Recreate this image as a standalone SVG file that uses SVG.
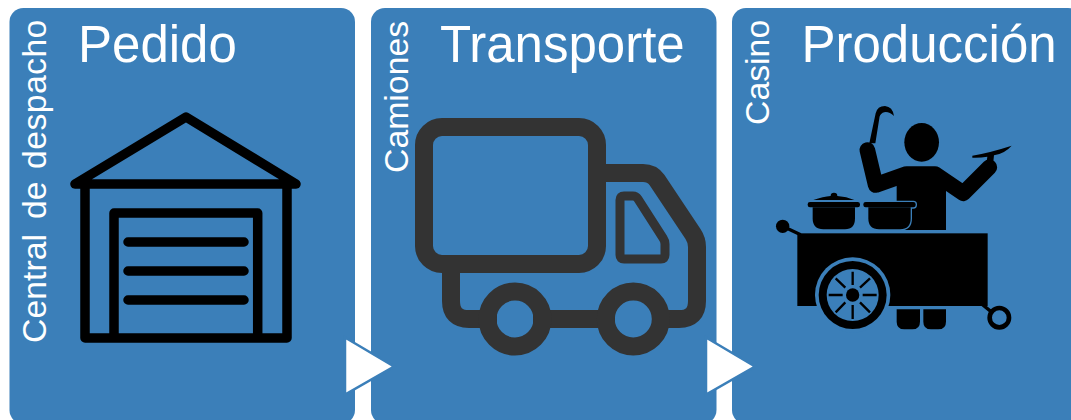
<svg xmlns="http://www.w3.org/2000/svg" width="1071" height="420" viewBox="0 0 1071 420">
<style>
.panel{fill:#3b7fb9}
.title{font-family:"Liberation Sans",Arial,sans-serif;font-size:51px;fill:#fff}
.side{font-family:"Liberation Sans",Arial,sans-serif;font-size:33.8px;fill:#fff}
.arrow{fill:#fff;stroke:#3b7fb9;stroke-width:2.5}
.g{fill:none;stroke:#000;stroke-width:9.5;stroke-linejoin:round;stroke-linecap:round}
.t{fill:none;stroke:#333;stroke-width:18;stroke-linejoin:round}
</style>
<rect width="1071" height="420" fill="#fff"/>
<g id="node-pedido">
<rect class="panel" x="9.5" y="8" width="345.5" height="416" rx="14"/>
<text class="title" x="78" y="62">Pedido</text>
<text class="side" transform="translate(45.5 343) rotate(-90)"><tspan x="0">Central</tspan> <tspan x="124">de</tspan> <tspan x="174" letter-spacing=".4">despacho</tspan></text>
<path class="g" d="M75 184H296M75 184L186 117L296 184M85 184V338H287V184M114 338V213H257.700V338"/>
<path class="g" d="M128 242H244M128 271H244M128 300H244"/>
</g>
<g id="node-transporte">
<rect class="panel" x="371" y="8" width="345.500" height="416" rx="14"/>
<text class="title" x="440" y="62">Transporte</text>
<text class="side" transform="translate(407.5 173) rotate(-90)">Camiones</text>
<rect class="t" x="424" y="127" width="173" height="137" rx="18"/>
<path class="t" d="M597 173H643Q652 173 657 180L693 234Q697 240 697 247V301Q697 319 679 319H655M615 319H533M497 319H469Q451 319 451 301V264"/>
<circle class="t" cx="515" cy="319" r="27.500" style="stroke-width:18"/>
<circle class="t" cx="633.300" cy="319" r="27.500" style="stroke-width:18"/>
<path class="t" style="stroke-width:9" d="M620 200Q620 196 624 196H633Q636 196 638 199L663 238Q665 241 665 244V255Q665 259 661 259H624Q620 259 620 255Z"/>
</g>
<g id="node-produccion">
<rect class="panel" x="732" y="8" width="350" height="416" rx="14"/>
<text class="title" x="801.5" y="62">Producción</text>
<text class="side" transform="translate(768.5 125) rotate(-90)">Casino</text>
<g transform="translate(760 90) scale(.33333)">
<ellipse cx="485" cy="157" rx="52" ry="58"/>
<path d="M322 180L347 285L440 252H525L610 310L688 232" fill="none" stroke="#000" stroke-width="47" stroke-linecap="round" stroke-linejoin="round"/>
<path d="M410 250H558V420H410Z"/>
<path d="M328 160L347 70Q352 48 375 48Q398 50 402 78Q385 62 368 68Q358 75 358 85L346 160Z"/>
<path d="M637 197Q690 188 755 167Q735 190 702 196L700 215L680 215L682 200Q660 204 637 203Z"/>
<path d="M160 330Q190 320 212 318A10 10 0 0 1 232 318Q260 320 283 330Z"/>
<rect x="143" y="336" width="157" height="16" rx="7"/>
<path d="M158 352V385Q158 418 190 418H255Q285 418 285 385V352Z"/>
<g stroke="#3b7fb9" stroke-width="8">
<path d="M325 352V385Q325 418 357 418H420Q452 418 452 385V352Z"/>
<rect x="310" y="336" width="157" height="16" rx="7"/>
</g>
<path d="M325 352V385Q325 418 357 418H420Q452 418 452 385V352Z"/>
<rect x="310" y="336" width="157" height="16" rx="7"/>
<rect x="112" y="430" width="571" height="218"/>
<circle cx="68" cy="409" r="20"/>
<path d="M68 409L122 434M665 642L697 668" stroke="#000" stroke-width="10" fill="none"/>
<circle cx="718" cy="683" r="29" fill="none" stroke="#000" stroke-width="14"/>
<path d="M410 658H480V695Q480 718 457 718H433Q410 718 410 695Z"/>
<path d="M490 658H558V695Q558 718 535 718H513Q490 718 490 695Z"/>
<circle cx="278" cy="615" r="113" fill="#3b7fb9"/>
<circle cx="278" cy="615" r="102"/>
<circle cx="278" cy="615" r="78" fill="#3b7fb9"/>
<circle cx="278" cy="615" r="20"/>
<path d="M278 545V585M278 645V687M206 615H248M308 615H350M227 565L256 593M300 637L330 667M330 565L300 593M256 637L227 667" stroke="#000" stroke-width="7" fill="none"/>
</g>
</g>
<g id="connectors">
<path class="arrow" d="M345 337.500L394 366.500L345 394.500Z"/>
<path class="arrow" d="M706 337.500L755 366.500L706 394.500Z"/>
</g>
</svg>
